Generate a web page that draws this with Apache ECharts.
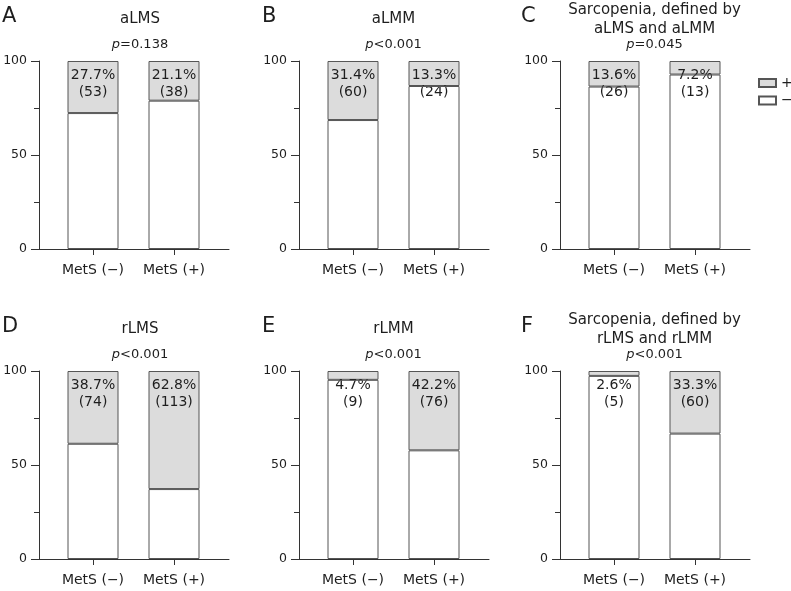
<!DOCTYPE html>
<html>
<head>
<meta charset="utf-8">
<script src="https://cdn.jsdelivr.net/npm/echarts@6/dist/echarts.min.js"></script>
<style>
html,body{margin:0;padding:0;background:#fff;}
#chart{width:791px;height:591px;}
</style>
</head>
<body>
<div id="chart"></div>
<script>
// ---- data ----
const categories = ['MetS (\u2212)', 'MetS (+)'];
const panelLetters = ['A', 'B', 'C', 'D', 'E', 'F'];
const panelTitles = ['aLMS', 'aLMM', 'Sarcopenia, defined by\naLMS and aLMM', 'rLMS', 'rLMM', 'Sarcopenia, defined by\nrLMS and rLMM'];
const pValues = ['=0.138', '<0.001', '=0.045', '<0.001', '<0.001', '<0.001'];
const positivePct = [[27.7, 21.1], [31.4, 13.3], [13.6, 7.2], [38.7, 62.8], [4.7, 42.2], [2.6, 33.3]];
const positiveN = [[53, 38], [60, 24], [26, 13], [74, 113], [9, 76], [5, 60]];
const negativePct = [[72.3, 78.9], [68.6, 86.7], [86.4, 92.8], [61.3, 37.2], [95.3, 57.8], [97.4, 66.7]];
const legendNames = ['+', '\u2212'];
const yMin = 0, yMax = 100, yInterval = 50;

// ---- layout ----
const FONT = "'DejaVu Sans', Verdana, sans-serif";
const TXT = '#1e1e1e';
const AXIS = '#333';
const BORDER = '#555';
const GRAY = '#dcdcdc';
const colLeft = [39, 299, 560];
const rowTop = [61, 371];
const frameW = 190, gridH = 188;
const barGridOffset = 13.5, barGridW = 162;
const titleCX = [140, 393.5, 654.5];
const letterX = [2, 262, 521];
const rowOffset = [0, 310];

const grids = [], xAxes = [], yAxes = [], series = [], graphics = [];
// frame grids (axes lines, y ticks/labels)
for (let i = 0; i < 6; i++) {
  const r = Math.floor(i / 3), c = i % 3;
  grids.push({ left: colLeft[c], top: rowTop[r], width: frameW, height: gridH });
  xAxes.push({
    type: 'value', gridIndex: i, min: 0, max: 1,
    splitLine: { show: false },
    axisLine: { show: true, onZero: false, lineStyle: { color: AXIS, width: 1 } },
    axisTick: { show: false }, axisLabel: { show: false }
  });
  yAxes.push({
    type: 'value', gridIndex: i, min: yMin, max: yMax, interval: yInterval,
    splitLine: { show: false },
    axisLine: { show: true, onZero: false, lineStyle: { color: AXIS, width: 1 } },
    axisTick: { show: true, length: 8, lineStyle: { color: AXIS } },
    minorTick: { show: true, splitNumber: 2, length: 5, lineStyle: { color: AXIS } },
    minorSplitLine: { show: false },
    axisLabel: { fontFamily: FONT, fontSize: 12.5, color: TXT, margin: 12 }
  });
}
// bar grids
for (let i = 0; i < 6; i++) {
  const r = Math.floor(i / 3), c = i % 3;
  const g = 6 + i;
  grids.push({ left: colLeft[c] + barGridOffset, top: rowTop[r], width: barGridW, height: gridH });
  xAxes.push({
    type: 'category', gridIndex: g, data: categories,
    axisLine: { show: false },
    axisTick: { show: true, alignWithLabel: true, length: 6, lineStyle: { color: AXIS } },
    axisLabel: { fontFamily: FONT, fontSize: 14, color: TXT, margin: 14 }
  });
  yAxes.push({ type: 'value', gridIndex: g, min: yMin, max: yMax, show: false });
  series.push({
    name: legendNames[1], type: 'bar', stack: 's' + i, xAxisIndex: g, yAxisIndex: g,
    barWidth: 51, z: 3, silent: true,
    itemStyle: { color: 'rgba(255,255,255,0)', borderColor: BORDER, borderWidth: 1 },
    data: negativePct[i]
  });
  series.push({
    name: legendNames[0], type: 'bar', stack: 's' + i, xAxisIndex: g, yAxisIndex: g,
    barWidth: 51, z: 2, silent: true,
    itemStyle: { color: GRAY, borderColor: BORDER, borderWidth: 1 },
    label: {
      show: true, position: 'insideTop', distance: 6,
      fontFamily: FONT, fontSize: 14, lineHeight: 17, color: TXT,
      formatter: p => positivePct[i][p.dataIndex].toFixed(1) + '%\n(' + positiveN[i][p.dataIndex] + ')'
    },
    data: positivePct[i]
  });
  const dy = rowOffset[r];
  graphics.push({
    type: 'text', x: letterX[c], y: 17 + dy,
    style: { text: panelLetters[i], fontFamily: FONT, fontSize: 21, fill: TXT,
      textAlign: 'left', textVerticalAlign: 'middle', align: 'left', verticalAlign: 'middle' }
  });
  graphics.push({
    type: 'text', x: titleCX[c], y: 19.5 + dy,
    style: { text: panelTitles[i], fontFamily: FONT, fontSize: 15, lineHeight: 18.5, fill: TXT,
      textAlign: 'center', textVerticalAlign: 'middle', align: 'center', verticalAlign: 'middle' }
  });
  graphics.push({
    type: 'text', x: titleCX[c], y: 45 + dy,
    style: { text: '{i|p}{n|' + pValues[i] + '}', fontFamily: FONT, fontSize: 13, fill: TXT,
      textAlign: 'center', textVerticalAlign: 'middle', align: 'center', verticalAlign: 'middle',
      rich: {
        i: { fontFamily: FONT, fontSize: 13, fontStyle: 'italic', fill: TXT },
        n: { fontFamily: FONT, fontSize: 13, fill: TXT }
      } }
  });
}

const chart = echarts.init(document.getElementById('chart'), null, { renderer: 'canvas' });
chart.setOption({
  animation: false,
  backgroundColor: '#fff',
  grid: grids,
  xAxis: xAxes,
  yAxis: yAxes,
  series: series,
  legend: {
    data: legendNames, orient: 'vertical', left: 758, top: 74.5, padding: 0,
    itemWidth: 17, itemHeight: 8, itemGap: 0.5, icon: 'rect', selectedMode: false,
    textStyle: { fontFamily: FONT, fontSize: 14, color: TXT, lineHeight: 17 }
  },
  graphic: graphics
});
</script>
</body>
</html>
